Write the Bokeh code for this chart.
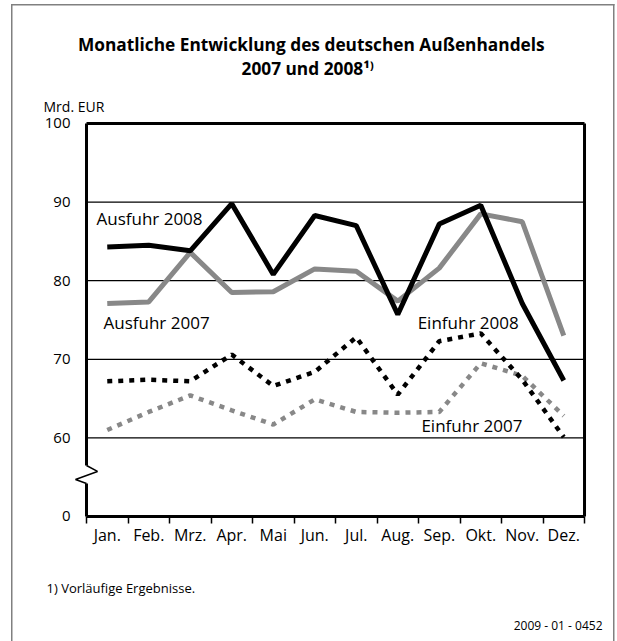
from bokeh.plotting import figure
from bokeh.models import FixedTicker, Title
from bokeh.embed import file_html
from bokeh.resources import INLINE

months = ["Jan.", "Feb.", "Mrz.", "Apr.", "Mai", "Jun.", "Jul.", "Aug.", "Sep.", "Okt.", "Nov.", "Dez."]
ausfuhr_2008 = [84.3, 84.5, 83.8, 89.8, 80.8, 88.3, 87.0, 75.7, 87.2, 89.6, 77.1, 67.3]
ausfuhr_2007 = [77.1, 77.3, 83.6, 78.5, 78.6, 81.5, 81.2, 77.4, 81.6, 88.5, 87.5, 73.0]
einfuhr_2008 = [67.2, 67.4, 67.2, 70.6, 66.6, 68.4, 72.8, 65.5, 72.3, 73.3, 67.4, 60.1]
einfuhr_2007 = [61.0, 63.3, 65.4, 63.5, 61.7, 64.9, 63.3, 63.2, 63.3, 69.5, 67.9, 62.8]
y_ticks = [50, 60, 70, 80, 90, 100]
y_tick_labels = ["0", "60", "70", "80", "90", "100"]
grid_values = [60, 70, 80, 90]

FONT = "Open Sans"
x = list(range(len(months)))
X0, X1 = -0.5, len(months) - 0.5
Y0, Y1 = 50, 100

border_css = {
    "background-image": ", ".join(["linear-gradient(#808080, #808080)"] * 3),
    "background-position": "11px 4px, 11px 4px, 613px 4px",
    "background-size": "1.5px 640px, 603.5px 1.5px, 1.5px 640px",
    "background-repeat": "no-repeat",
}

p = figure(width=617, height=641, x_range=(-0.7892, 11.572), y_range=(49.49, 100.38),
           output_backend="svg", toolbar_location=None,
           min_border_left=74, min_border_right=30, min_border_top=120, min_border_bottom=121,
           outline_line_color=None, background_fill_color=None, border_fill_color=None,
           styles=border_css)

# x axis: labels at month centres, tick marks between months
p.xaxis.ticker = FixedTicker(ticks=x, minor_ticks=[i - 0.5 for i in range(len(months) + 1)])
p.xaxis.major_label_overrides = {i: m for i, m in enumerate(months)}
p.xaxis.axis_line_color = None
p.xaxis.major_tick_out = 0
p.xaxis.major_tick_in = 0
p.xaxis.minor_tick_in = 4
p.xaxis.minor_tick_out = 3
p.xaxis.minor_tick_line_color = "black"
p.xaxis.minor_tick_line_width = 1.5
p.xaxis.major_label_standoff = 0
p.xaxis.major_label_text_font = FONT
p.xaxis.major_label_text_font_size = "16px"
p.xaxis.major_label_text_color = "black"

p.yaxis.ticker = FixedTicker(ticks=y_ticks, minor_ticks=[])
p.yaxis.major_label_overrides = {t: l for t, l in zip(y_ticks, y_tick_labels)}
p.yaxis.axis_line_color = None
p.yaxis.major_tick_out = 0
p.yaxis.major_tick_in = 0
p.yaxis.major_label_standoff = 4
p.yaxis.major_label_text_font = FONT
p.yaxis.major_label_text_font_size = "15px"
p.yaxis.major_label_text_color = "black"

p.xgrid.grid_line_color = None
p.ygrid.grid_line_color = None

# grid lines and frame
p.segment(x0=[X0] * len(grid_values), x1=[X1] * len(grid_values), y0=grid_values, y1=grid_values,
          line_color="black", line_width=1.3)
p.segment(x0=[X0, X1, X0, X0], y0=[Y1, Y1, Y0, Y1], x1=[X1, X1, X1, X0], y1=[Y1, Y0, Y0, 56.49],
          line_color="black", line_width=3)
p.segment(x0=[X0], y0=[54.2], x1=[X0], y1=[Y0], line_color="black", line_width=3)
# axis break
p.line(x=[X0, X0 + 0.265, X0 - 0.265, X0], y=[56.49, 55.73, 54.71, 54.2],
       line_color="black", line_width=1.5)

GRAY = "#888888"
p.line(x, ausfuhr_2007, line_color=GRAY, line_width=5)
p.line(x, einfuhr_2007, line_color=GRAY, line_width=4.5, line_dash="5 6")
p.line(x, einfuhr_2008, line_color="black", line_width=4.5, line_dash="5 6")
p.line(x, ausfuhr_2008, line_color="black", line_width=5)

p.text(x=[-0.26, -0.09, 7.48, 7.57], y=[87.9, 74.68, 74.68, 61.58],
       text=["Ausfuhr 2008", "Ausfuhr 2007", "Einfuhr 2008", "Einfuhr 2007"],
       text_font={"value": FONT}, text_font_size="17px", text_baseline="middle",
       text_align="left", text_color="black")

def title(text, place, size, align, offset, standoff, bold=False):
    t = Title(text=text, align=align, offset=offset, standoff=standoff,
              text_font=FONT, text_font_size=size, text_color="black",
              text_font_style="bold" if bold else "normal")
    p.add_layout(t, place)

title("Mrd. EUR", "above", "14px", "left", -31, 10)
title("2007 und 2008\u00b9\u207e", "above", "17.3px", "left", 167, 19, True)
title("Monatliche Entwicklung des deutschen Außenhandels", "above", "17.3px", "left", 3.5, -21, True)
title("1) Vorläufige Ergebnisse.", "below", "13px", "left", -28, 56)
title("2009 - 01 - 0452", "below", "12px", "right", -15, -19)

open("out.html", "w").write(file_html(p, INLINE))
